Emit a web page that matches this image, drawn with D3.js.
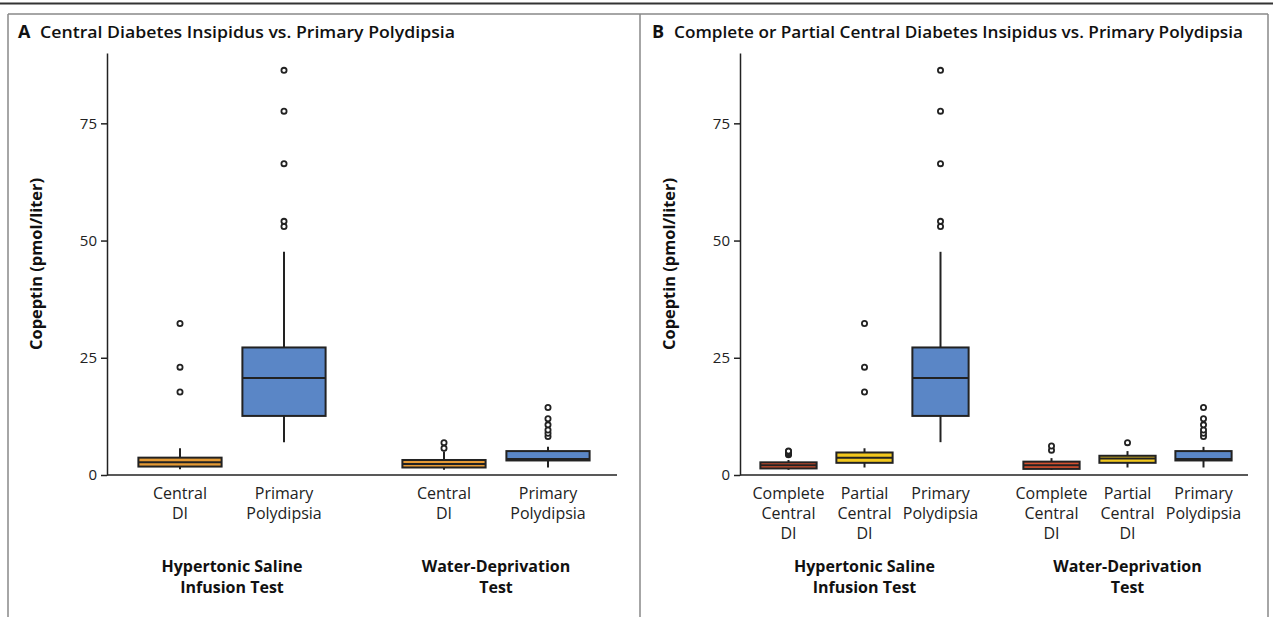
<!DOCTYPE html>
<html>
<head>
<meta charset="utf-8">
<script src="https://cdn.jsdelivr.net/npm/d3@7"></script>
<style>
  body { margin: 0; background: #fff; }
  svg { display: block; font-family: "Open Sans", "Lato", sans-serif; }
</style>
</head>
<body>
<svg id="chart" width="1273" height="617"></svg>
<script>
// tests (groups) on the x axis
const tests = ["Hypertonic Saline\nInfusion Test", "Water-Deprivation\nTest"];

// Panel A: Central DI vs Primary Polydipsia
const catsA = ["Central\nDI", "Primary\nPolydipsia"];
const colorsA = ["#E59A35", "#5A86C6"];
const lowA   = [[1.2, 7.0],  [1.1, 1.6]];
const q1A    = [[1.8, 12.6], [1.6, 3.1]];
const medA   = [[2.7, 20.7], [2.35, 3.4]];
const q3A    = [[3.7, 27.2], [3.2, 5.1]];
const highA  = [[5.7, 47.6], [5.0, 6.0]];
const outA   = [
  [[17.7, 23.0, 32.3], [53.0, 54.1, 66.4, 77.6, 86.3]],
  [[5.7, 6.9], [8.2, 8.9, 9.6, 10.7, 12.0, 14.4]]
];

// Panel B: Complete or Partial Central DI vs Primary Polydipsia
const catsB = ["Complete\nCentral\nDI", "Partial\nCentral\nDI", "Primary\nPolydipsia"];
const colorsB = ["#D4502F", "#F2C81E", "#5A86C6"];
const lowB   = [[1.1, 1.6, 7.0],  [1.1, 1.6, 1.6]];
const q1B    = [[1.4, 2.6, 12.6], [1.3, 2.6, 3.1]];
const medB   = [[2.1, 3.7, 20.7], [2.1, 3.5, 3.4]];
const q3B    = [[2.7, 4.8, 27.2], [2.85, 4.1, 5.1]];
const highB  = [[3.2, 5.7, 47.6], [3.6, 5.1, 6.0]];
const outB   = [
  [[4.3, 4.5, 4.7, 5.0, 5.1], [17.7, 23.0, 32.3], [53.0, 54.1, 66.4, 77.6, 86.3]],
  [[5.3, 6.2], [6.9], [8.2, 8.9, 9.6, 10.7, 12.0, 14.4]]
];

const yTicks = [0, 25, 50, 75];

const svg = d3.select("#chart");

// frame
svg.append("line").attr("x1", 0).attr("x2", 1273).attr("y1", 3.5).attr("y2", 3.5)
  .attr("stroke", "#333").attr("stroke-width", 2);
svg.append("line").attr("x1", 8).attr("x2", 1268).attr("y1", 14).attr("y2", 14)
  .attr("stroke", "#888").attr("stroke-width", 1.5);
[8, 640, 1268].forEach(x => {
  svg.append("line").attr("x1", x).attr("x2", x).attr("y1", 14).attr("y2", 617)
    .attr("stroke", "#888").attr("stroke-width", 1.5);
});

function multiline(sel, str, lh) {
  str.split("\n").forEach((t, i) => {
    sel.append("tspan").attr("x", sel.attr("x")).attr("dy", i === 0 ? 0 : lh).text(t);
  });
}

function panel(opt) {
  const g = svg.append("g");
  const y = d3.scaleLinear().domain([0, 90]).range([475, 53]);
  const w = opt.axisEnd - opt.axisX;

  // title
  g.append("text").attr("x", opt.letterX).attr("y", 38)
    .attr("font-size", 18).attr("font-weight", 700).attr("fill", "#111").text(opt.letter);
  g.append("text").attr("x", opt.letterX + 22).attr("y", 38)
    .attr("font-size", opt.titleSize).attr("font-weight", 600).attr("fill", "#111")
    .attr("textLength", opt.titleLen).attr("lengthAdjust", "spacingAndGlyphs")
    .text(opt.title);

  // y axis
  const yAxis = g.append("g").attr("transform", `translate(${opt.axisX},0)`)
    .call(d3.axisLeft(y).tickValues(yTicks).tickSize(6).tickPadding(4).tickSizeOuter(0));
  yAxis.select(".domain").attr("stroke", "#222").attr("stroke-width", 1.5);
  yAxis.selectAll(".tick line").attr("stroke", "#222").attr("stroke-width", 1.5);
  yAxis.selectAll(".tick text").attr("font-size", 15).attr("fill", "#222")
    .attr("font-family", "\"Open Sans\", sans-serif");
  g.append("text")
    .attr("transform", `translate(${opt.axisX - 65},${(y(0) + y(90)) / 2}) rotate(-90)`)
    .attr("text-anchor", "middle").attr("font-size", 16.4).attr("font-weight", 700)
    .attr("fill", "#111").text("Copeptin (pmol/liter)");

  // x baseline
  g.append("line").attr("x1", opt.axisX).attr("x2", opt.axisEnd)
    .attr("y1", y(0)).attr("y2", y(0)).attr("stroke", "#222").attr("stroke-width", 1.5);

  const outer = d3.scaleBand().domain(d3.range(tests.length))
    .range([opt.axisX - 7, opt.axisX + w + 11]);

  tests.forEach((test, gi) => {
    const cx = outer(gi) + outer.bandwidth() / 2;
    const n = opt.cats.length;
    const inner = d3.scaleBand().domain(opt.cats)
      .range([cx - n * opt.step / 2, cx + n * opt.step / 2])
      .paddingInner(opt.pad).paddingOuter(opt.pad / 2);

    opt.cats.forEach((c, ci) => {
      const x0 = inner(c), bw = inner.bandwidth(), xm = x0 + bw / 2;
      const b = g.append("g");
      b.append("line").attr("x1", xm).attr("x2", xm)
        .attr("y1", y(opt.low[gi][ci])).attr("y2", y(opt.high[gi][ci]))
        .attr("stroke", "#222").attr("stroke-width", 2);
      b.append("rect").attr("x", x0).attr("width", bw)
        .attr("y", y(opt.q3[gi][ci])).attr("height", y(opt.q1[gi][ci]) - y(opt.q3[gi][ci]))
        .attr("fill", opt.colors[ci]).attr("stroke", "#222").attr("stroke-width", 2);
      b.append("line").attr("x1", x0).attr("x2", x0 + bw)
        .attr("y1", y(opt.med[gi][ci])).attr("y2", y(opt.med[gi][ci]))
        .attr("stroke", "#222").attr("stroke-width", 2);
      b.selectAll("circle").data(opt.out[gi][ci]).enter().append("circle")
        .attr("cx", xm).attr("cy", d => y(d)).attr("r", 2.6)
        .attr("fill", "#fff").attr("stroke", "#222").attr("stroke-width", 1.8);

      // category label
      const t = g.append("text").attr("x", xm).attr("y", 499)
        .attr("text-anchor", "middle").attr("font-size", 16).attr("fill", "#222");
      multiline(t, c, 20);
    });

    const gt = g.append("text").attr("x", cx).attr("y", 572)
      .attr("text-anchor", "middle").attr("font-size", 16).attr("font-weight", 700)
      .attr("fill", "#111");
    multiline(gt, test, 21);
  });
}

panel({
  letter: "A", letterX: 18, title: "Central Diabetes Insipidus vs. Primary Polydipsia",
  titleSize: 16.5, titleLen: 415,
  axisX: 107, axisEnd: 617, cats: catsA, colors: colorsA, step: 104, pad: 0.2,
  low: lowA, q1: q1A, med: medA, q3: q3A, high: highA, out: outA
});
panel({
  letter: "B", letterX: 652, title: "Complete or Partial Central Diabetes Insipidus vs. Primary Polydipsia",
  titleSize: 16.5, titleLen: 569,
  axisX: 740, axisEnd: 1248, cats: catsB, colors: colorsB, step: 76, pad: 0.26,
  low: lowB, q1: q1B, med: medB, q3: q3B, high: highB, out: outB
});
</script>
</body>
</html>
